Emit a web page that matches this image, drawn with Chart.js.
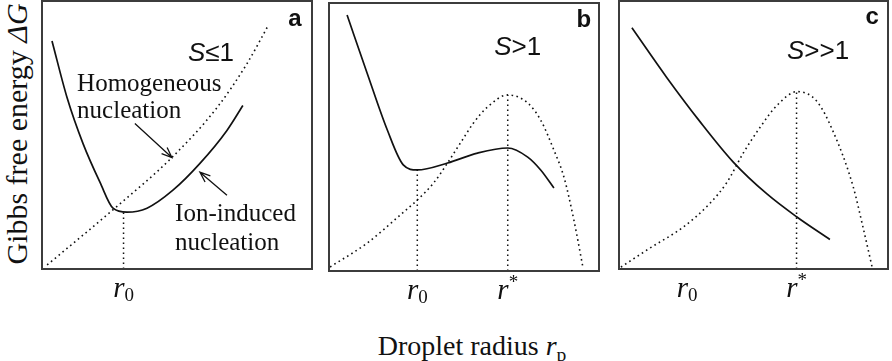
<!DOCTYPE html>
<html>
<head>
<meta charset="utf-8">
<script src="https://cdn.jsdelivr.net/npm/chart.js@4.4.0/dist/chart.umd.min.js"></script>
<style>
  body { margin: 0; background: #fff; width: 892px; height: 361px; overflow: hidden; position: relative; }
  canvas { position: absolute; top: 0; }
  .ytitle { position: absolute; left: 17px; top: 134px; transform: translate(-50%, -50%) rotate(-90deg);
            font-family: "Liberation Serif", serif; font-size: 30px; white-space: nowrap; color: #111; }
  .xtitle { position: absolute; left: 472px; top: 346px; transform: translate(-50%, -50%);
            font-family: "Liberation Serif", serif; font-size: 28px; white-space: nowrap; color: #111; }
  .sub { font-style: normal; font-size: 0.7em; position: relative; top: 0.3em; }
</style>
</head>
<body>
<div class="ytitle">Gibbs free energy <i>ΔG</i></div>
<div class="xtitle">Droplet radius <i>r</i><span class="sub">p</span></div>
<canvas id="chartA" width="274" height="310" style="left:40px"></canvas>
<canvas id="chartB" width="274" height="310" style="left:327px"></canvas>
<canvas id="chartC" width="273" height="310" style="left:617px"></canvas>
<script>
// x and y are in relative units (0-100) of each panel

// panel a: S <= 1
const aHomX = [1.9, 27.0, 48.1, 64.8, 75.9, 83.7];
const aHomY = [1.5, 22.7, 41.6, 60.2, 76.6, 90.7];
const aIonX = [3.7, 9.3, 15.2, 21.5, 26.3, 31.5, 38.9, 48.5, 58.5, 68.5, 74.4];
const aIonY = [85.1, 63.9, 46.8, 32.3, 22.7, 21.2, 22.7, 29.4, 39.4, 51.7, 61.0];
const aR0 = 30.2;

// panel b: S > 1
const bHomX = [0.4, 14.1, 26.4, 32.7, 38.7, 43.9, 48.7, 53.5, 58.7, 66.2, 73.6, 78.4, 83.3, 87.0, 90.7, 94.1];
const bHomY = [1.5, 10.4, 20.9, 26.5, 32.8, 40.3, 47.8, 55.2, 61.2, 65.7, 62.7, 56.3, 45.1, 35.1, 19.0, 1.1];
const bIonX = [6.7, 14.1, 21.6, 27.5, 32.7, 43.9, 55.0, 66.2, 73.6, 78.4, 83.3];
const bIonY = [95.5, 73.9, 52.6, 39.6, 37.7, 40.3, 44.0, 45.9, 42.5, 37.7, 31.0];
const bR0 = 32.7;
const bRstar = 66.2;

// panel c: S >> 1
const cHomX = [0.7, 11.5, 23.8, 33.8, 40.1, 46.1, 52.4, 58.7, 66.2, 73.6, 79.6, 87.0, 90.7, 94.1];
const cHomY = [0.7, 7.8, 15.6, 24.5, 32.3, 43.1, 52.8, 61.0, 66.2, 62.5, 51.3, 30.9, 15.6, 0.7];
const cIonX = [4.8, 17.8, 30.1, 42.4, 55.0, 66.0, 78.4];
const cIonY = [90.0, 71.4, 55.0, 40.0, 28.0, 19.5, 11.0];
const cR0 = 25.3;
const cRstar = 66.0;

const pts = (xs, ys) => xs.map((x, i) => ({ x, y: ys[i] }));

const DOT = [1.6, 3.4];
const curve = (data, dotted) => ({
  data, borderColor: '#111', borderWidth: dotted ? 1.6 : 1.7,
  borderDash: dotted ? DOT : [], pointRadius: 0, fill: false,
  cubicInterpolationMode: 'monotone'
});
const drop = (xv, top) => ({
  data: [{ x: xv, y: 0 }, { x: xv, y: top }], borderColor: '#111', borderWidth: 1.5,
  borderDash: DOT, pointRadius: 0, fill: false, tension: 0
});

const SERIF = '"Liberation Serif", serif';
const SANS = '"Liberation Sans", Arial, sans-serif';

// frame, arrows, notes and r0 / r* labels
const notesPlugin = {
  id: 'notes',
  afterDatasetsDraw(chart, args, opts) {
    const { ctx, chartArea: ca, scales: { x, y } } = chart;
    ctx.save();
    ctx.strokeStyle = '#3c3c3c';
    ctx.lineWidth = 2;
    ctx.strokeRect(ca.left, ca.top, ca.right - ca.left, ca.bottom - ca.top);

    ctx.strokeStyle = '#111';
    ctx.lineWidth = 1.3;
    (opts.arrows || []).forEach(a => {
      const x0 = x.getPixelForValue(a.from[0]), y0 = y.getPixelForValue(a.from[1]);
      const x1 = x.getPixelForValue(a.to[0]), y1 = y.getPixelForValue(a.to[1]);
      const ang = Math.atan2(y1 - y0, x1 - x0);
      ctx.beginPath();
      ctx.moveTo(x0, y0); ctx.lineTo(x1, y1);
      ctx.moveTo(x1 - 11 * Math.cos(ang - 0.38), y1 - 11 * Math.sin(ang - 0.38));
      ctx.lineTo(x1, y1);
      ctx.lineTo(x1 - 11 * Math.cos(ang + 0.38), y1 - 11 * Math.sin(ang + 0.38));
      ctx.stroke();
    });

    ctx.fillStyle = '#111';
    ctx.textBaseline = 'alphabetic';
    (opts.texts || []).forEach(t => {
      let w = 0;
      t.parts.forEach(p => { ctx.font = p.font; w += ctx.measureText(p.text).width; });
      let px = x.getPixelForValue(t.x) - (t.align === 'left' ? 0 : w / 2);
      const py = y.getPixelForValue(t.y);
      t.parts.forEach(p => {
        ctx.font = p.font;
        ctx.fillText(p.text, px, py);
        px += ctx.measureText(p.text).width;
      });
    });

    (opts.ticks || []).forEach(tk => {
      const base = ca.bottom + 28;
      ctx.font = 'italic 29px ' + SERIF;
      const rw = ctx.measureText('r').width;
      ctx.font = '19px ' + SERIF;
      const sw = ctx.measureText(tk.mark).width;
      let px = x.getPixelForValue(tk.at) - (rw + sw) / 2;
      ctx.font = 'italic 29px ' + SERIF;
      ctx.fillText('r', px, base);
      ctx.font = '19px ' + SERIF;
      ctx.fillText(tk.mark, px + rw, tk.mark === '0' ? base + 4 : base - 11);
    });
    ctx.restore();
  }
};

const sLabel = (txt, xv, yv) => ({ x: xv, y: yv, parts: [
  { text: 'S', font: 'italic 26px ' + SANS }, { text: txt, font: '26px ' + SANS }] });
const panelLetter = (ch, xv, yv) => ({ x: xv, y: yv, parts: [{ text: ch, font: 'bold 24px ' + SANS }] });
const serifNote = (txt, xv, yv) => ({ x: xv, y: yv, align: 'left', parts: [{ text: txt, font: '25px ' + SERIF }] });

function makeChart(id, datasets, pad, notes) {
  return new Chart(document.getElementById(id), {
    type: 'line',
    data: { datasets },
    options: {
      responsive: false,
      animation: false,
      layout: { padding: pad },
      scales: {
        x: { type: 'linear', min: 0, max: 100, display: false },
        y: { type: 'linear', min: 0, max: 100, display: false }
      },
      plugins: { legend: { display: false }, tooltip: { enabled: false }, notes }
    },
    plugins: [notesPlugin]
  });
}

makeChart('chartA', [
  curve(pts(aHomX, aHomY), true),
  curve(pts(aIonX, aIonY), false),
  drop(aR0, 21.4)
], { left: 2, right: 2, top: 1, bottom: 41 }, {
  texts: [
    sLabel('≤1', 62.6, 77.5),
    panelLetter('a', 93.7, 90.5),
    serifNote('Homogeneous', 13, 66.5),
    serifNote('nucleation', 13, 56.5),
    serifNote('Ion-induced', 49.3, 17.8),
    serifNote('nucleation', 49.3, 7.2)
  ],
  arrows: [
    { from: [34.4, 54.3], to: [48.1, 41.6] },
    { from: [68.5, 27.5], to: [58.5, 36.1] }
  ],
  ticks: [{ at: aR0, mark: '0' }]
});

makeChart('chartB', [
  curve(pts(bHomX, bHomY), true),
  curve(pts(bIonX, bIonY), false),
  drop(bR0, 37.7),
  drop(bRstar, 65.7)
], { left: 2, right: 2, top: 3, bottom: 39 }, {
  texts: [
    sLabel('>1', 69.9, 80.5),
    panelLetter('b', 94.4, 91)
  ],
  ticks: [{ at: bR0, mark: '0' }, { at: bRstar, mark: '*' }]
});

makeChart('chartC', [
  curve(pts(cHomX, cHomY), true),
  curve(pts(cIonX, cIonY), false),
  drop(cRstar, 66.2)
], { left: 2, right: 2, top: 1, bottom: 41 }, {
  texts: [
    sLabel('>>1', 74.0, 78.5),
    panelLetter('c', 94.1, 91.4)
  ],
  ticks: [{ at: cR0, mark: '0' }, { at: cRstar, mark: '*' }]
});
</script>
</body>
</html>
